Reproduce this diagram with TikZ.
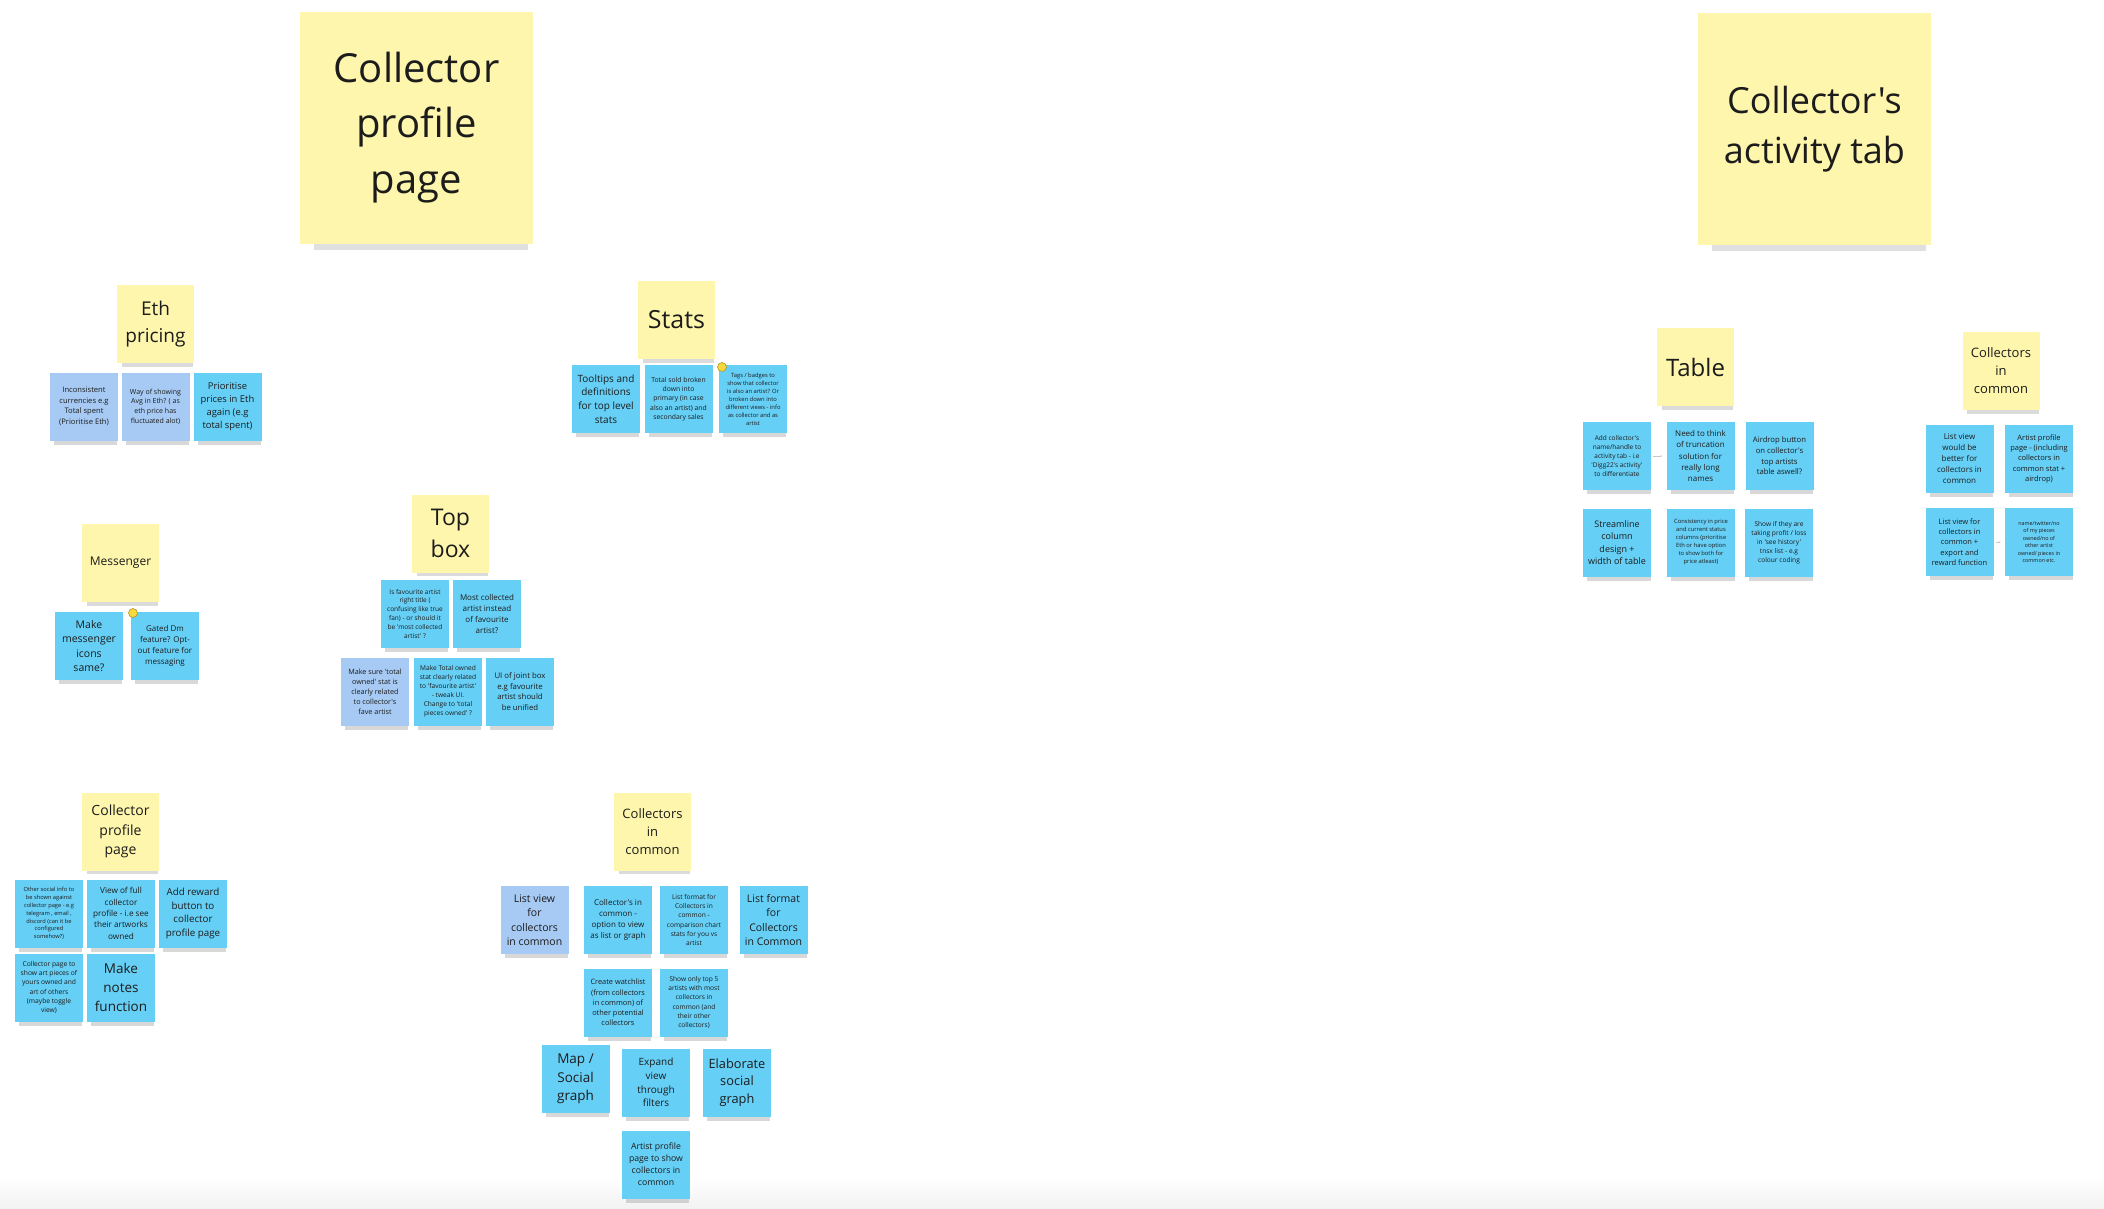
\documentclass[tikz,border=0pt]{standalone}
\usepackage{fontspec}
\setmainfont{Open Sans}[Ligatures=TeXOff]
\usepackage{xcolor}
\usepackage{tikz}
\usetikzlibrary{arrows.meta,shadows}
\definecolor{stickyyellow}{RGB}{254,246,172}
\definecolor{stickyblue}{RGB}{102,207,246}
\definecolor{stickylav}{RGB}{166,202,243}
\definecolor{inkgrey}{RGB}{28,28,28}
\definecolor{dotyellow}{RGB}{249,216,60}

\begin{document}
\begin{tikzpicture}[x=1pt, y=-1pt,
  fs/.style={font=\pgfmathsetmacro\bls{1.38*#1}\fontsize{#1}{\bls}\selectfont},
  note/.style={inner sep=0pt, align=center, text=inkgrey},
  big/.style={note, fill=stickyyellow, minimum width=233, minimum height=232,
    drop shadow={shadow xshift=5pt, shadow yshift=-17pt, shadow scale=.92, opacity=.24}},
  ynote/.style={note, fill=stickyyellow, minimum width=77, minimum height=78,
    drop shadow={shadow xshift=2pt, shadow yshift=-7pt, shadow scale=.93, opacity=.28}},
  bnote/.style={note, fill=stickyblue, minimum width=68, minimum height=68,
    drop shadow={shadow xshift=2pt, shadow yshift=-7pt, shadow scale=.93, opacity=.3}},
  lnote/.style={bnote, fill=stickylav},
  vote/.style={circle, fill=dotyellow, draw=dotyellow!70!black, line width=.6pt, minimum size=9, inner sep=0pt},
  link/.style={draw=black!22, line width=.8pt, -{Stealth[length=2pt]}, shorten <=2pt, shorten >=4pt}
]
\fill[white] (0,0) rectangle (2104,1208);
\shade[top color=white, bottom color=black!5] (0,1176) rectangle (2104,1208);

% page titles
\node[big, fs=40] (profile) at (416.5,127.5) {Collector\\profile\\page};
\node[big, fs=36] (activity) at (1814.5,129) {Collector's\\activity tab};

% eth pricing
\node[ynote, fs=19] (eth) at (155.5,324) {Eth\\pricing};
\node[lnote, fs=7.6] (eth1) at (84,406.5) {Inconsistent\\currencies e.g\\Total spent\\(Prioritise Eth)};
\node[lnote, fs=7] (eth2) at (155.5,406.5) {Way of showing\\Avg in Eth? ( as\\eth price has\\fluctuated alot)};
\node[bnote, fs=9.4] (eth3) at (227.5,406.5) {Prioritise\\prices in Eth\\again (e.g\\total spent)};

% stats
\node[ynote, fs=25] (stats) at (676.5,320) {Stats};
\node[bnote, fs=10] (stats1) at (606,399) {Tooltips and\\definitions\\for top level\\stats};
\node[bnote, fs=6.8] (stats2) at (678.5,399) {Total sold broken\\down into\\primary (in case\\also an artist) and\\secondary sales};
\node[bnote, fs=5.8] (stats3) at (753,399) {Tags / badges to\\show that collector\\is also an artist? Or\\broken down into\\different views - info\\as collector and as\\artist};

% messenger
\node[ynote, fs=12] (messenger) at (120.5,563) {Messenger};
\node[bnote, fs=10.5] (mess1) at (89,646) {Make\\messenger\\icons\\same?};
\node[bnote, fs=8] (mess2) at (165,646) {Gated Dm\\feature? Opt-\\out feature for\\messaging};

% top box
\node[ynote, fs=23] (topbox) at (450.5,533.5) {Top\\box};
\node[bnote, fs=6.5] (top1) at (415,614) {Is favourite artist\\right title (\\confusing like true\\fan) - or should it\\be 'most collected\\artist' ?};
\node[bnote, fs=8] (top2) at (487,614) {Most collected\\artist instead\\of favourite\\artist?};
\node[lnote, fs=7.2] (top3) at (375,691.5) {Make sure 'total\\owned' stat is\\clearly related\\to collector's\\fave artist};
\node[bnote, fs=6.6] (top4) at (448,691.5) {Make Total owned\\stat clearly related\\to 'favourite artist'\\- tweak UI.\\Change to 'total\\pieces owned' ?};
\node[bnote, fs=7.8] (top5) at (520,691.5) {UI of joint box\\e.g favourite\\artist should\\be unified};

% collector profile page
\node[ynote, fs=14] (cpp) at (120.5,831.5) {Collector\\profile\\page};
\node[bnote, fs=5.7] (cpp1) at (49,913.5) {Other social info to\\be shown against\\collector page - e.g\\telegram , email ,\\discord (can it be\\configured\\somehow?)};
\node[bnote, fs=8.2] (cpp2) at (121,913.5) {View of full\\collector\\profile - i.e see\\their artworks\\owned};
\node[bnote, fs=9.8] (cpp3) at (193,913.5) {Add reward\\button to\\collector\\profile page};
\node[bnote, fs=6.7] (cpp4) at (49,987.5) {Collector page to\\show art pieces of\\yours owned and\\art of others\\(maybe toggle\\view)};
\node[bnote, fs=13.5] (cpp5) at (121,987.5) {Make\\notes\\function};

% collectors in common
\node[ynote, fs=13] (common) at (652.5,831.5) {Collectors\\in\\common};
\node[lnote, fs=10.5] (com1) at (534.5,920) {List view\\for\\collectors\\in common};
\node[bnote, fs=8] (com2) at (618,920) {Collector's in\\common -\\option to view\\as list or graph};
\node[bnote, fs=6.6] (com3) at (694,920) {List format for\\Collectors in\\common -\\comparison chart\\stats for you vs\\artist};
\node[bnote, fs=10.5] (com4) at (773.5,920) {List format\\for\\Collectors\\in Common};
\node[bnote, fs=7.4] (com5) at (618,1002.5) {Create watchlist\\(from collectors\\in common) of\\other potential\\collectors};
\node[bnote, fs=6.6] (com6) at (694,1002.5) {Show only top 5\\artists with most\\collectors in\\common (and\\their other\\collectors)};
\node[bnote, fs=13.5] (com7) at (575.5,1079) {Map /\\Social\\graph};
\node[bnote, fs=10] (com8) at (656,1082.5) {Expand\\view\\through\\filters};
\node[bnote, fs=12.8] (com9) at (737,1082.5) {Elaborate\\social\\graph};
\node[bnote, fs=8.7] (com10) at (656,1164.5) {Artist profile\\page to show\\collectors in\\common};

% activity tab: table
\node[ynote, fs=24] (table) at (1695.5,367) {Table};
\node[bnote, fs=6.5] (tab1) at (1617,456) {Add collector's\\name/handle to\\activity tab - i.e\\'Digg22's activity'\\to differentiate};
\node[bnote, fs=8] (tab2) at (1700.5,456) {Need to think\\of truncation\\solution for\\really long\\names};
\node[bnote, fs=7.7] (tab3) at (1779.5,456) {Airdrop button\\on collector's\\top artists\\table aswell?};
\node[bnote, fs=9] (tab4) at (1617,542.5) {Streamline\\column\\design +\\width of table};
\node[bnote, fs=5.8] (tab5) at (1701,542.5) {Consistency in price\\and current status\\columns (prioritise\\Eth or have option\\to show both for\\price atleast)};
\node[bnote, fs=6.6] (tab6) at (1779,542.5) {Show if they are\\taking profit / loss\\in 'see history'\\tnsx list - e.g\\colour coding};

% activity tab: collectors in common
\node[ynote, fs=13] (common2) at (2001,371) {Collectors\\in\\common};
\node[bnote, fs=8] (right1) at (1959.5,459) {List view\\would be\\better for\\collectors in\\common};
\node[bnote, fs=7.5] (right2) at (2039,459) {Artist profile\\page - (including\\collectors in\\common stat +\\airdrop)};
\node[bnote, fs=7.5] (right3) at (1959.5,542) {List view for\\collectors in\\common +\\export and\\reward function};
\node[bnote, fs=5.4] (right4) at (2039,542) {name/twitter/no\\of my pieces\\owned/no of\\other artist\\owned/ pieces in\\common etc.};

\draw[link] (tab1) -- (tab2);
\draw[link] (right3) -- (right4);

% votes
\node[vote] (statsvote) at (722,367) {};
\node[vote] (messvote) at (133,613) {};
\end{tikzpicture}
\end{document}
